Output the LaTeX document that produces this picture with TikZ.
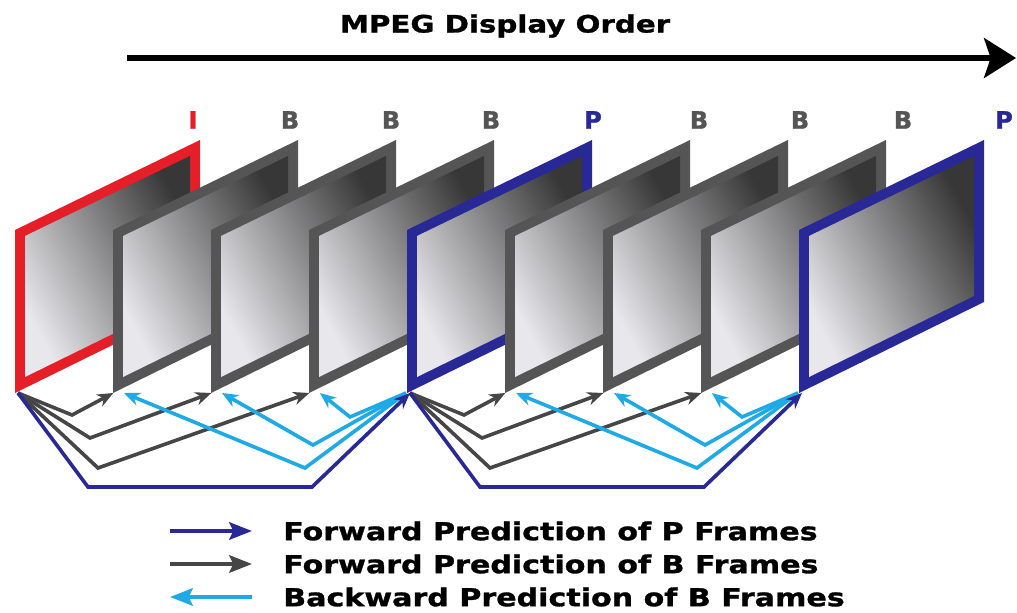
\documentclass[tikz,border=0pt]{standalone}
\usepackage{fontspec}
\setmainfont{DejaVu Sans}
\newfontfamily\legfont[FakeStretch=1.22,FakeBold=1.2]{DejaVu Sans}
\newfontfamily\headfont[FakeBold=1.2]{DejaVu Sans}
\usetikzlibrary{arrows.meta,calc}
\definecolor{iRed}{RGB}{230,30,40}
\definecolor{pNavy}{RGB}{40,40,150}
\definecolor{bGray}{RGB}{85,85,85}
\definecolor{aGray}{RGB}{70,70,70}
\definecolor{bCyan}{RGB}{30,170,230}
\definecolor{shLight}{RGB}{232,232,236}
\definecolor{shDark}{RGB}{55,55,55}
\tikzset{
  inner/.style={top color=shDark, bottom color=shLight, shading angle=-62},
  tipa/.style={-{Stealth[length=12pt,width=10pt]}},
  garrow/.style={draw=aGray, line width=2.7pt, line join=miter, tipa},
  carrow/.style={draw=bCyan, line width=2.7pt, line join=miter, tipa},
  parrow/.style={draw=pNavy, line width=2.7pt, line join=miter, tipa},
  legarrow/.style={line width=3pt, -{Stealth[length=17pt,width=13pt,inset=3pt]}},
  lbl/.style={font=\headfont\bfseries\fontsize{18}{20}\selectfont, inner sep=0pt},
  legtext/.style={font=\legfont\bfseries\fontsize{18.5}{21}\selectfont, anchor=west, inner sep=0pt, text=black},
}
\newcommand\vidframe[3]{%
  \fill[#2] (#1,393) -- (#1,230) -- ({#1+185},140) -- ({#1+185},302) -- cycle;
  \shade[inner] ({#1+10},377) -- ({#1+10},236) -- ({#1+175},156) -- ({#1+175},296) -- cycle;
  \coordinate (#3) at ({#1+3},393);
}
\begin{document}
\begin{tikzpicture}[x=0.75pt,y=-0.75pt]
\useasboundingbox[fill=white] (0,0) rectangle (1017,613);
% title and display order arrow
\node[font=\legfont\bfseries\fontsize{18}{21}\selectfont, inner sep=0pt] (title) at (505,26) {MPEG Display Order};
\coordinate (ordstart) at (127,58);
\coordinate (ordend) at (1016,58);
\draw[line width=3.8pt, -{Stealth[length=24pt,width=30pt,inset=5pt]}] (ordstart) -- (ordend);
% frame labels
\node[lbl, text=iRed] (l0) at (193,120) {I};
\node[lbl, text=bGray] (l1) at (290,120) {B};
\node[lbl, text=bGray] (l2) at (391,120) {B};
\node[lbl, text=bGray] (l3) at (491,120) {B};
\node[lbl, text=pNavy] (l4) at (593,120) {P};
\node[lbl, text=bGray] (l5) at (699,120) {B};
\node[lbl, text=bGray] (l6) at (800,120) {B};
\node[lbl, text=bGray] (l7) at (903,120) {B};
\node[lbl, text=pNavy] (l8) at (1004,120) {P};
% frames (back to front)
\vidframe{15}{iRed}{f0}
\vidframe{113}{bGray}{f1}
\vidframe{211}{bGray}{f2}
\vidframe{309}{bGray}{f3}
\vidframe{407}{pNavy}{f4}
\vidframe{505}{bGray}{f5}
\vidframe{603}{bGray}{f6}
\vidframe{701}{bGray}{f7}
\vidframe{799}{pNavy}{f8}
% prediction arrows
\foreach \a/\b/\c/\d/\e in {f0/f1/f2/f3/f4, f4/f5/f6/f7/f8}{
  \draw[garrow] (\a) -- ++(54,22) -- ([xshift=-2pt]\b);
  \draw[garrow] (\a) -- ++(72,45) -- ([xshift=-2pt]\c);
  \draw[garrow] (\a) -- ++(80,75) -- ([xshift=-2pt]\d);
  \draw[carrow] ([xshift=-3pt]\e) -- ($(\a)+(332,24)$) -- ([xshift=6pt]\d);
  \draw[carrow] ([xshift=-3pt]\e) -- ($(\a)+(295,52)$) -- ([xshift=6pt]\c);
  \draw[carrow] ([xshift=-3pt]\e) -- ($(\a)+(287,75)$) -- ([xshift=6pt]\b);
  \draw[parrow] (\a) -- ++(70,94) -- ++(224,0) -- (\e);
}
% legend
\coordinate (lp0) at (170,531); \coordinate (lp1) at (252,531);
\coordinate (lb0) at (170,564); \coordinate (lb1) at (252,564);
\coordinate (lc0) at (252,597); \coordinate (lc1) at (170,597);
\draw[legarrow, draw=pNavy] (lp0) -- (lp1);
\draw[legarrow, draw=aGray] (lb0) -- (lb1);
\draw[legarrow, draw=bCyan] (lc0) -- (lc1);
\node[legtext] (t1) at (283,531) {Forward Prediction of P Frames};
\node[legtext] (t2) at (283,564) {Forward Prediction of B Frames};
\node[legtext] (t3) at (283,597) {Backward Prediction of B Frames};
\end{tikzpicture}
\end{document}
